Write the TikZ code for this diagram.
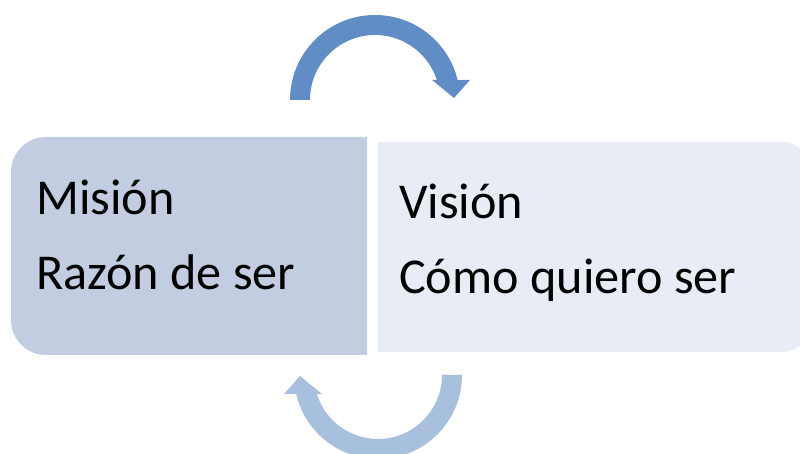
\documentclass[tikz,border=0pt]{standalone}
\usepackage{fontspec}
\setmainfont{Carlito}
\definecolor{boxA}{RGB}{195,205,226}
\definecolor{boxB}{RGB}{232,236,244}
\definecolor{arrA}{RGB}{96,141,197}
\definecolor{arrB}{RGB}{167,192,222}
\begin{document}
\begin{tikzpicture}[x=1pt,y=1pt,
  lbl/.style={anchor=base west,inner sep=0pt,font=\fontsize{50.2}{60}\selectfont,text=black}]
\useasboundingbox (0,0) rectangle (800,454);
\clip (0,0) rectangle (800,454);
% boxes
\fill[boxA] (367,99) -- (46,99) arc[start angle=270,end angle=180,radius=35] -- (11,282) arc[start angle=180,end angle=90,radius=35] -- (367,317) -- cycle;
\fill[boxB] (378,102) -- (782,102) arc[start angle=270,end angle=360,radius=30] -- (812,282) arc[start angle=0,end angle=90,radius=30] -- (378,312) -- cycle;
% top arrow
\fill[arrA] (290,354) arc[start angle=180,end angle=13.6,radius=85] -- (470,374) -- (454,356) -- (432,374) -- (436.8,374) arc[start angle=17.9,end angle=180,radius=65] -- cycle;
% bottom arrow
\fill[arrB] (462,79) arc[start angle=0,end angle=-166.93,radius=84] -- (284,60) -- (300,78) -- (322,60) -- ({378+64*cos(-162.73)},{79+64*sin(-162.73)}) arc[start angle=-162.73,end angle=0,radius=64] -- cycle;
% texts
\node[lbl] (m1) at (36,239) {Misión};
\node[lbl] (m2) at (36,164) {Razón de ser};
\node[lbl] (v1) at (399,235) {Visión};
\node[lbl] (v2) at (399,160) {Cómo quiero ser};
\end{tikzpicture}
\end{document}
